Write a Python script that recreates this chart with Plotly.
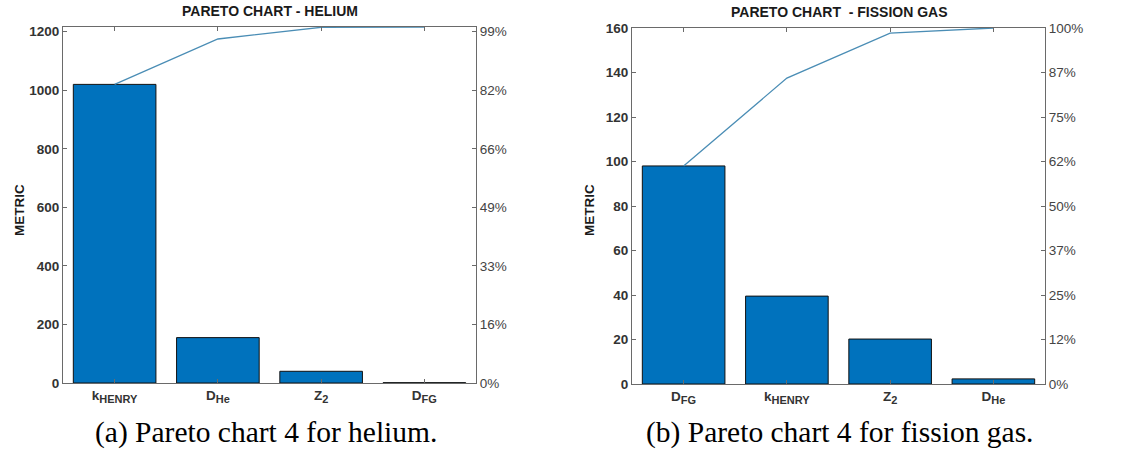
import numpy as np
import plotly.graph_objects as go

# ---------------- data ----------------
he_categories = ["k|HENRY", "D|He", "Z|2", "D|FG"]
he_values = [1020, 155, 40, 1]
he_yticks = [0, 200, 400, 600, 800, 1000, 1200]
he_pct_labels = ["0%", "16%", "33%", "49%", "66%", "82%", "99%"]

fg_categories = ["D|FG", "k|HENRY", "Z|2", "D|He"]
fg_values = [98, 39.5, 20.2, 2.3]
fg_yticks = [0, 20, 40, 60, 80, 100, 120, 140, 160]
fg_pct_labels = ["0%", "12%", "25%", "37%", "50%", "62%", "75%", "87%", "100%"]

titles = ["PARETO CHART - HELIUM", "PARETO CHART  - FISSION GAS"]
captions = ["(a) Pareto chart 4 for helium.", "(b) Pareto chart 4 for fission gas."]
ylabel = "METRIC"

# ---------------- style ----------------
W, H = 1139, 468
BAR_COLOR = "#0072BD"
LINE_COLOR = "#4a8db5"
AXIS_COLOR = "#6a6a6a"
SANS = "Liberation Sans, Arial, sans-serif"
SERIF = "Liberation Serif, Times New Roman, serif"


def px(x):
    return x / W


def py(y):
    return 1 - y / H


def cat_label(c):
    main, sub = c.split("|")
    return "<b>%s<sub><span style='font-size:11px'>%s</span></sub></b>" % (main, sub)


panels = [
    dict(cats=he_categories, vals=he_values, ticks=he_yticks, pct=he_pct_labels,
         xdom=[px(63), px(476)], ydom=[py(383), py(27)], cx=270, lx=20, capx=266),
    dict(cats=fg_categories, vals=fg_values, ticks=fg_yticks, pct=fg_pct_labels,
         xdom=[px(632), px(1045)], ydom=[py(384), py(28)], cx=839, lx=590, capx=840),
]

fig = go.Figure()
layout = dict(
    width=W, height=H, autosize=False,
    margin=dict(l=0, r=0, t=0, b=0, pad=0, autoexpand=False),
    paper_bgcolor="white", plot_bgcolor="white", showlegend=False,
    bargap=0.2, annotations=[],
)

for i, p in enumerate(panels):
    xa = "x" if i == 0 else "x2"
    ya = "y" if i == 0 else "y3"
    ya2 = "y2" if i == 0 else "y4"
    xkey = "xaxis" if i == 0 else "xaxis2"
    ykey = "yaxis" if i == 0 else "yaxis3"
    y2key = "yaxis2" if i == 0 else "yaxis4"
    total = float(np.sum(p["vals"]))
    cum = np.cumsum(p["vals"])
    ticktext = [cat_label(c) for c in p["cats"]]

    fig.add_trace(go.Bar(
        x=p["cats"], y=p["vals"], xaxis=xa, yaxis=ya, width=0.8,
        marker=dict(color=BAR_COLOR, line=dict(color="#111111", width=1)),
    ))
    fig.add_trace(go.Scatter(
        x=p["cats"], y=cum, xaxis=xa, yaxis=ya2, mode="lines",
        line=dict(color=LINE_COLOR, width=1.3),
    ))

    layout[xkey] = dict(
        domain=p["xdom"], anchor=ya, type="category", automargin=False,
        range=[-0.5, len(p["cats"]) - 0.5],
        tickmode="array", tickvals=p["cats"], ticktext=ticktext,
        ticks="inside", ticklen=4, tickcolor=AXIS_COLOR,
        showline=True, linecolor=AXIS_COLOR, linewidth=1, mirror="ticks",
        showgrid=False, zeroline=False,
        tickfont=dict(family=SANS, size=13.5, color="#333333"),
    )
    layout[ykey] = dict(
        domain=p["ydom"], anchor=xa, range=[0, total], automargin=False,
        tickmode="array", tickvals=p["ticks"],
        ticktext=["<b>%d</b>" % t for t in p["ticks"]],
        ticks="inside", ticklen=4, tickcolor=AXIS_COLOR,
        showline=True, linecolor=AXIS_COLOR, linewidth=1,
        showgrid=False, zeroline=False,
        tickfont=dict(family=SANS, size=13.5, color="#333333"),
    )
    layout[y2key] = dict(
        overlaying=ya, side="right", anchor=xa, range=[0, total], automargin=False,
        tickmode="array", tickvals=p["ticks"], ticktext=p["pct"],
        ticks="inside", ticklen=4, tickcolor=AXIS_COLOR,
        showline=True, linecolor=AXIS_COLOR, linewidth=1,
        showgrid=False, zeroline=False,
        tickfont=dict(family=SANS, size=13.5, color="#444444"),
    )

    layout["annotations"].append(dict(
        text="<b>" + titles[i] + "</b>", x=px(p["cx"]), y=p["ydom"][1], xref="paper", yref="paper",
        xanchor="center", yanchor="bottom", yshift=6, showarrow=False,
        font=dict(family=SANS, size=14, color="#1a1a1a"),
    ))
    layout["annotations"].append(dict(
        text="<b>" + ylabel + "</b>", x=px(p["lx"]), y=py(210),
        xref="paper", yref="paper", xanchor="center", yanchor="middle",
        textangle=-90, showarrow=False,
        font=dict(family=SANS, size=13.5, color="#1a1a1a"),
    ))
    layout["annotations"].append(dict(
        text=captions[i], x=px(p["capx"]), y=py(432),
        xref="paper", yref="paper", xanchor="center", yanchor="middle",
        showarrow=False,
        font=dict(family=SERIF, size=29.5, color="black"),
    ))

fig.update_layout(**layout)
fig.write_html(
    "out.html",
    config={"displayModeBar": False},
    post_script="document.body.style.margin='0';document.body.style.overflow='hidden';",
)
